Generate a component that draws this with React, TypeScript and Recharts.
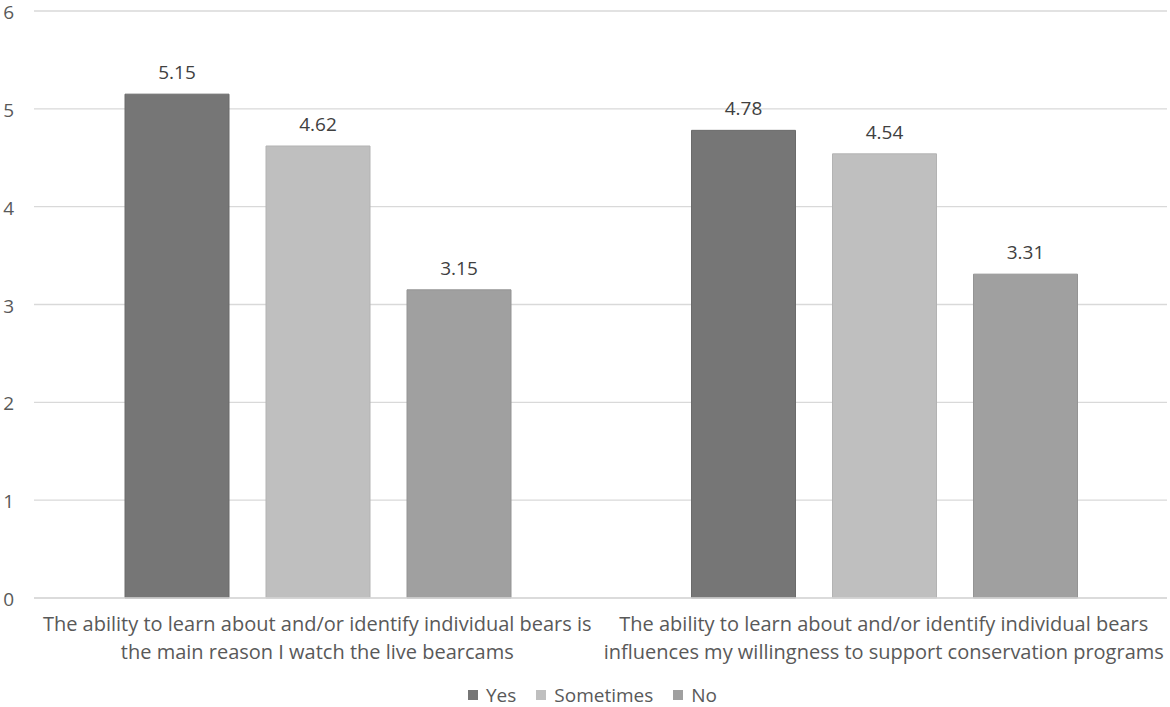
import React from "react";
import { BarChart, Bar, XAxis, YAxis, CartesianGrid, Legend, LabelList } from "recharts";

const categories = [
  "The ability to learn about and/or identify individual bears is\nthe main reason I watch the live bearcams",
  "The ability to learn about and/or identify individual bears\ninfluences my willingness to support conservation programs",
];
const yesValues = [5.15, 4.78];
const sometimesValues = [4.62, 4.54];
const noValues = [3.15, 3.31];
const yTicks = [0, 1, 2, 3, 4, 5, 6];

const seriesNames = ["Yes", "Sometimes", "No"];
const fills = ["#767676", "#bfbfbf", "#a0a0a0"];
const strokes = ["#6b6b6b", "#b3b3b3", "#949494"];

const data = categories.map((c, i) => ({
  category: c,
  Yes: yesValues[i],
  Sometimes: sometimesValues[i],
  No: noValues[i],
}));

const FONT = "'Open Sans', 'Noto Sans', sans-serif";

const XTick = (props: any) => {
  const { x, y, payload } = props;
  const lines = String(payload.value).split("\n");
  return (
    <g transform={`translate(${x},${y})`}>
      {lines.map((l: string, i: number) => (
        <text
          key={i}
          x={0}
          y={17 + i * 28}
          textAnchor="middle"
          dominantBaseline="central"
          fill="#595959"
          fontSize={20}
          fontFamily={FONT}
        >
          {l}
        </text>
      ))}
    </g>
  );
};

const YTick = (props: any) => {
  const { y, payload } = props;
  return (
    <text x={14} y={y + 1} textAnchor="end" dominantBaseline="central" fill="#595959" fontSize={19} fontFamily={FONT}>
      {payload.value}
    </text>
  );
};

const LegendContent = () => (
  <div style={{ display: "flex", justifyContent: "center", alignItems: "center", height: 24, paddingLeft: 18, fontFamily: FONT, fontSize: 19, color: "#595959", lineHeight: "24px" }}>
    {seriesNames.map((n, i) => (
      <div key={n} style={{ display: "flex", alignItems: "center", marginRight: i < seriesNames.length - 1 ? 20 : 0 }}>
        <span style={{ display: "inline-block", width: 10, height: 10, background: fills[i], marginRight: 8 }} />
        <span>{n}</span>
      </div>
    ))}
  </div>
);

export default function App() {
  return (
    <div style={{ position: "absolute", left: 0, top: 0, width: 1170, height: 707, background: "#fff" }}>
      <BarChart
        width={1170}
        height={707}
        data={data}
        margin={{ top: 11, right: 3, left: 0, bottom: 0 }}
        barCategoryGap={91}
        barGap={37}
      >
        <CartesianGrid vertical={false} stroke="#d9d9d9" strokeWidth={1.3} />
        <XAxis
          dataKey="category"
          axisLine={{ stroke: "#d9d9d9", strokeWidth: 1.3 }}
          tickLine={false}
          tick={<XTick />}
          height={85}
          interval={0}
        />
        <YAxis
          domain={[0, 6]}
          ticks={yTicks}
          axisLine={false}
          tickLine={false}
          tick={<YTick />}
          width={34}
        />
        <Legend verticalAlign="bottom" content={<LegendContent />} wrapperStyle={{ height: 24 }} />
        {seriesNames.map((n, i) => (
          <Bar key={n} dataKey={n} fill={fills[i]} stroke={strokes[i]} strokeWidth={1} isAnimationActive={false}>
            <LabelList dataKey={n} position="top" offset={15} fill="#404040" fontSize={19} fontFamily={FONT} formatter={(v: any) => Number(v).toFixed(2)} />
          </Bar>
        ))}
      </BarChart>
    </div>
  );
}
